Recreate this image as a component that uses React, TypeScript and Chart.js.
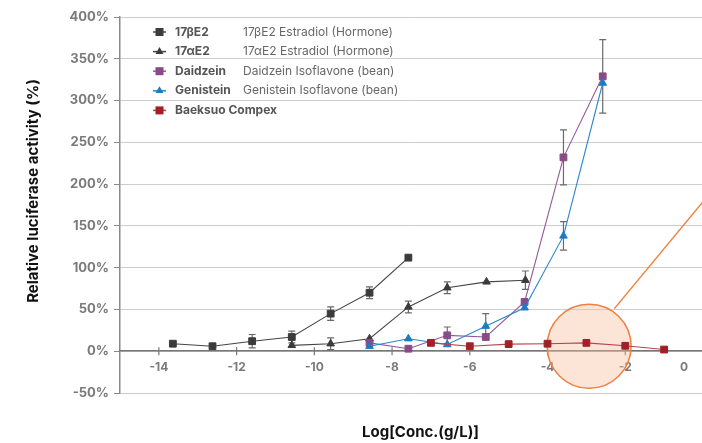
import React, { useEffect, useRef } from 'react';
import { Chart, registerables } from 'chart.js';

Chart.register(...registerables);

// ---- axis ticks ----
const xTickValues = [-14, -12, -10, -8, -6, -4, -2, 0];
const yTickValues = [-50, 0, 50, 100, 150, 200, 250, 300, 350, 400];

// ---- legend text ----
const seriesNames = ['17βE2', '17αE2', 'Daidzein', 'Genistein', 'Baeksuo Compex'];
const seriesNotes = [
  '17βE2 Estradiol (Hormone)',
  '17αE2 Estradiol (Hormone)',
  'Daidzein Isoflavone (bean)',
  'Genistein Isoflavone (bean)',
  '',
];

// ---- series values (x = Log[Conc.(g/L)], y = relative activity %) ----
const betaLogConc = [-13.64, -12.62, -11.6, -10.58, -9.58, -8.58, -7.58];
const betaActivity = [9, 6, 12, 17, 45, 70, 112];
const betaError = [0, 0, 8, 7, 8, 7, 0];

const alphaLogConc = [-10.58, -9.58, -8.58, -7.58, -6.58, -5.57, -4.57];
const alphaActivity = [7, 9, 15, 53, 76, 83, 85];
const alphaError = [0, 7, 0, 7, 7, 0, 11];

const daidzeinLogConc = [-8.58, -7.58, -6.58, -5.59, -4.59, -3.59, -2.58];
const daidzeinActivity = [10, 3, 19, 17, 59, 232, 329];
const daidzeinError = [0, 0, 10, 0, 0, 33, 44];

const genisteinLogConc = [-8.58, -7.58, -6.58, -5.59, -4.59, -3.59, -2.58];
const genisteinActivity = [6, 15, 8, 30, 52, 138, 321];
const genisteinError = [0, 0, 0, 15, 0, 17, 0];

const baeksuoLogConc = [-7, -6, -5, -4, -3, -2, -1];
const baeksuoActivity = [10, 6, 8.5, 9, 10, 6.5, 2];

// ---- highlight callout ----
const highlightX = [-2.93];
const highlightY = [6];
const calloutX = [-2.28, 0];
const calloutY = [51, 179];

const FONT = 'Inter, "Noto Sans", sans-serif';
const TICK_PAD_X = 9;
const TICK_FONT_SIZE = 12;

const pts = (xs: number[], ys: number[]) => xs.map((x, i) => ({ x, y: ys[i] }));

const errorBarPlugin = {
  id: 'errorBars',
  beforeDatasetsDraw(chart: any) {
    const { ctx, scales } = chart;
    const xs = scales.x;
    const ys = scales.y;
    ctx.save();
    // crossing x tick marks
    const y0 = ys.getPixelForValue(0);
    ctx.strokeStyle = '#777';
    ctx.lineWidth = 1.2;
    xs.ticks.forEach((t: any) => {
      const px = xs.getPixelForValue(t.value);
      ctx.beginPath();
      ctx.moveTo(px, y0 - 4);
      ctx.lineTo(px, y0 + 4);
      ctx.stroke();
    });
    // error bars
    ctx.strokeStyle = '#6a6a6a';
    ctx.lineWidth = 1.2;
    chart.data.datasets.forEach((ds: any) => {
      if (!ds.errors) return;
      ds.data.forEach((p: any, i: number) => {
        const e = ds.errors[i];
        if (!e) return;
        const px = xs.getPixelForValue(p.x);
        const top = ys.getPixelForValue(p.y + e);
        const bot = ys.getPixelForValue(p.y - e);
        ctx.beginPath();
        ctx.moveTo(px, top);
        ctx.lineTo(px, bot);
        ctx.moveTo(px - 3.5, top);
        ctx.lineTo(px + 3.5, top);
        ctx.moveTo(px - 3.5, bot);
        ctx.lineTo(px + 3.5, bot);
        ctx.stroke();
      });
    });
    ctx.restore();
  },
};

const textPlugin = {
  id: 'texts',
  afterDraw(chart: any) {
    const { ctx, chartArea, scales } = chart;
    ctx.save();
    // last x tick label, pulled inside the visible area
    ctx.fillStyle = '#7a7a7a';
    ctx.font = `bold ${TICK_FONT_SIZE}px ${FONT}`;
    ctx.textAlign = 'center';
    ctx.textBaseline = 'middle';
    ctx.fillText(
      '0',
      scales.x.getPixelForValue(0) - 19,
      scales.y.getPixelForValue(0) + TICK_PAD_X + (TICK_FONT_SIZE * 1.2) / 2
    );
    // axis titles
    ctx.fillStyle = '#111';
    ctx.font = `bold 15px ${FONT}`;
    ctx.fillText('Log[Conc.(g/L)]', (chartArea.left + chartArea.right) / 2 + 9, chartArea.bottom + 39);
    ctx.translate(33, chartArea.top + 174);
    ctx.rotate(-Math.PI / 2);
    ctx.fillText('Relative luciferase activity (%)', 0, 0);
    ctx.restore();

    // legend
    ctx.save();
    const lx0 = chartArea.left + 33;
    const lx1 = chartArea.left + 46;
    const mx = (lx0 + lx1) / 2;
    const nameX = chartArea.left + 55;
    const noteX = chartArea.left + 123;
    seriesNames.forEach((name, i) => {
      const ds = chart.data.datasets[i];
      const y = 32 + i * 19.6;
      ctx.strokeStyle = ds.borderColor;
      ctx.lineWidth = 1.5;
      ctx.beginPath();
      ctx.moveTo(lx0, y);
      ctx.lineTo(lx1, y);
      ctx.stroke();
      ctx.fillStyle = ds.backgroundColor;
      if (ds.pointStyle === 'triangle') {
        const r = 4.6;
        ctx.beginPath();
        ctx.moveTo(mx, y - r);
        ctx.lineTo(mx + r * 0.866, y + r / 2);
        ctx.lineTo(mx - r * 0.866, y + r / 2);
        ctx.closePath();
        ctx.fill();
      } else {
        ctx.fillRect(mx - 4, y - 4, 8, 8);
      }
      ctx.textAlign = 'left';
      ctx.textBaseline = 'middle';
      ctx.fillStyle = '#555';
      ctx.font = `bold 12px ${FONT}`;
      ctx.fillText(name, nameX, y);
      if (seriesNotes[i]) {
        ctx.fillStyle = '#666';
        ctx.font = `12px ${FONT}`;
        ctx.fillText(seriesNotes[i], noteX, y);
      }
    });
    ctx.restore();
  },
};

export default function App() {
  const ref = useRef<HTMLCanvasElement>(null);

  useEffect(() => {
    if (!ref.current) return;
    Chart.defaults.font.family = FONT;
    const series = (
      data: { x: number; y: number }[],
      color: string,
      lineColor: string,
      style: string,
      radius: number,
      order: number,
      errors?: number[]
    ) => ({
      data,
      errors,
      showLine: true,
      borderColor: lineColor,
      borderWidth: 1.1,
      backgroundColor: color,
      pointBackgroundColor: color,
      pointBorderColor: color,
      pointBorderWidth: 1,
      pointStyle: style,
      pointRadius: radius,
      order,
    });

    const datasets: any[] = [
      series(pts(betaLogConc, betaActivity), '#3b3b3b', '#454545', 'rect', 4.8, 5, betaError),
      series(pts(alphaLogConc, alphaActivity), '#3b3b3b', '#454545', 'triangle', 4.4, 4, alphaError),
      series(pts(daidzeinLogConc, daidzeinActivity), '#8a4a86', '#94589a', 'rect', 4.8, 3, daidzeinError),
      series(pts(genisteinLogConc, genisteinActivity), '#1b7bc4', '#2a86cc', 'triangle', 4.4, 2, genisteinError),
      series(pts(baeksuoLogConc, baeksuoActivity), '#a31f28', '#b8454e', 'rect', 4.8, 1),
      {
        data: pts(highlightX, highlightY),
        showLine: false,
        pointStyle: 'circle',
        pointRadius: 42,
        pointBackgroundColor: 'rgba(248, 190, 155, 0.4)',
        pointBorderColor: '#f08040',
        pointBorderWidth: 1.5,
        order: 10,
      },
      {
        data: pts(calloutX, calloutY),
        showLine: true,
        pointRadius: 0,
        borderColor: '#f08040',
        borderWidth: 1.5,
        order: 9,
      },
    ];

    const chart = new Chart(ref.current, {
      type: 'scatter',
      data: { datasets },
      options: {
        animation: false,
        responsive: true,
        maintainAspectRatio: false,
        events: [],
        layout: { autoPadding: false, padding: { left: 0, right: 0, top: 17, bottom: 50 } },
        plugins: {
          legend: { display: false },
          tooltip: { enabled: false },
          title: { display: false },
        },
        scales: {
          y: {
            type: 'linear',
            min: -50,
            max: 400,
            afterBuildTicks: (axis: any) => {
              axis.ticks = yTickValues.map((v) => ({ value: v }));
            },
            afterFit: (scale: any) => {
              scale.width = 120;
            },
            ticks: {
              callback: (v: any) => `${v}%`,
              color: '#7a7a7a',
              padding: 5,
              font: { family: FONT, size: 13, weight: 'bold' },
            },
            grid: {
              color: '#cdcdcd',
              lineWidth: 1,
              borderDash: [2, 3],
              tickBorderDash: [],
              tickColor: '#888',
              tickLength: 6,
              drawTicks: true,
            },
            border: { display: true, color: '#8a8a8a', width: 1.5 },
          },
          x: {
            type: 'linear',
            min: -15,
            max: 0,
            position: { y: 0 } as any,
            afterBuildTicks: (axis: any) => {
              axis.ticks = xTickValues.map((v) => ({ value: v }));
            },
            ticks: {
              autoSkip: false,
              maxRotation: 0,
              padding: TICK_PAD_X,
              color: '#7a7a7a',
              font: { family: FONT, size: TICK_FONT_SIZE, weight: 'bold' },
              callback: (v: any) => (v === 0 ? '' : String(v)),
            },
            grid: { display: false, drawTicks: false },
            border: { display: true, color: '#777', width: 1.5 },
          },
        },
      } as any,
      plugins: [errorBarPlugin, textPlugin],
    });

    return () => chart.destroy();
  }, []);

  return (
    <div
      style={{
        position: 'absolute',
        left: 0,
        top: 0,
        width: 702,
        height: 443,
        overflow: 'hidden',
        background: '#fff',
      }}
    >
      <div style={{ position: 'relative', width: 712, height: 443 }}>
        <canvas ref={ref} />
      </div>
    </div>
  );
}
